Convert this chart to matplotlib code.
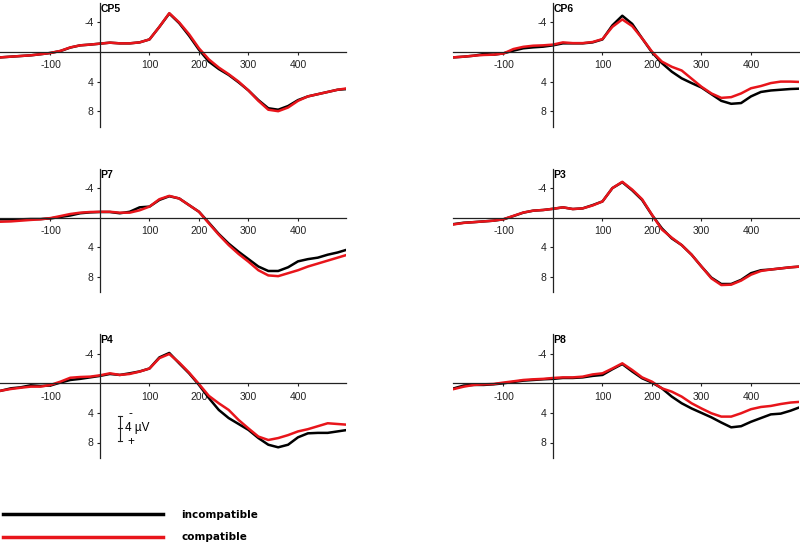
import numpy as np
import matplotlib.pyplot as plt
from matplotlib.lines import Line2D

# time axis (ms), shared by all channels
time = list(range(-200, 501, 20))

# ERP amplitudes in microvolts
cp5_incomp = [0.72, 0.63, 0.54, 0.45, 0.3, 0.13, -0.13, -0.6, -0.9, -1.0, -1.13, -1.26, -1.17, -1.17,
              -1.3, -1.7, -3.4, -5.2, -3.9, -2.2, -0.3, 1.3, 2.3, 3.1, 4.1, 5.2, 6.5, 7.6, 7.8, 7.3,
              6.5, 6.0, 5.7, 5.4, 5.1, 5.0]
cp5_comp = [0.72, 0.63, 0.54, 0.45, 0.3, 0.13, -0.15, -0.62, -0.9, -1.0, -1.13, -1.26, -1.17, -1.17,
            -1.3, -1.7, -3.4, -5.25, -4.0, -2.4, -0.5, 1.0, 2.1, 3.0, 4.0, 5.2, 6.6, 7.8, 8.0, 7.5,
            6.6, 6.0, 5.7, 5.4, 5.1, 4.9]

cp6_incomp = [0.72, 0.63, 0.5, 0.27, 0.36, 0.18, -0.18, -0.5, -0.63, -0.72, -0.9, -1.17, -1.17, -1.17,
              -1.3, -1.7, -3.6, -4.9, -3.8, -1.85, 0.05, 1.5, 2.66, 3.56, 4.2, 4.8, 5.7, 6.6, 7.0, 6.9,
              6.0, 5.4, 5.2, 5.1, 5.0, 4.95]
cp6_comp = [0.72, 0.63, 0.5, 0.4, 0.36, 0.2, -0.4, -0.7, -0.85, -0.9, -1.0, -1.3, -1.2, -1.2,
            -1.35, -1.75, -3.4, -4.4, -3.5, -1.85, -0.05, 1.3, 2.0, 2.5, 3.6, 4.7, 5.6, 6.2, 6.1, 5.6,
            4.9, 4.6, 4.2, 4.0, 4.0, 4.05]

p7_incomp = [0.22, 0.22, 0.22, 0.18, 0.18, 0.1, -0.1, -0.3, -0.6, -0.72, -0.77, -0.77, -0.6, -0.8,
             -1.4, -1.5, -2.4, -2.9, -2.6, -1.7, -0.8, 0.68, 2.2, 3.5, 4.6, 5.6, 6.6, 7.2, 7.2, 6.7,
             5.9, 5.6, 5.4, 5.0, 4.7, 4.3]
p7_comp = [0.54, 0.5, 0.4, 0.3, 0.22, 0.05, -0.22, -0.5, -0.68, -0.77, -0.8, -0.8, -0.68, -0.68,
           -1.0, -1.5, -2.5, -2.95, -2.6, -1.7, -0.8, 0.77, 2.3, 3.7, 4.9, 5.95, 7.1, 7.8, 7.9, 7.5,
           7.1, 6.6, 6.2, 5.8, 5.4, 5.0]

p3_incomp = [0.86, 0.68, 0.6, 0.5, 0.4, 0.22, -0.22, -0.68, -0.95, -1.04, -1.2, -1.4, -1.17, -1.26,
             -1.7, -2.2, -4.0, -4.8, -3.7, -2.4, -0.36, 1.44, 2.8, 3.7, 5.0, 6.6, 8.1, 8.96, 8.96, 8.4,
             7.5, 7.1, 7.0, 6.85, 6.7, 6.6]
p3_comp = [0.9, 0.7, 0.6, 0.5, 0.4, 0.2, -0.25, -0.7, -0.95, -1.04, -1.2, -1.4, -1.17, -1.26,
           -1.65, -2.2, -4.0, -4.85, -3.8, -2.5, -0.4, 1.6, 2.7, 3.7, 5.0, 6.6, 8.2, 9.1, 9.05, 8.5,
           7.7, 7.2, 7.0, 6.85, 6.7, 6.6]

p4_incomp = [1.0, 0.68, 0.54, 0.27, 0.36, 0.3, -0.1, -0.45, -0.6, -0.8, -1.0, -1.26, -1.13, -1.35,
             -1.6, -2.0, -3.5, -4.1, -2.7, -1.35, 0.22, 2.0, 3.6, 4.7, 5.5, 6.3, 7.4, 8.3, 8.65, 8.3,
             7.3, 6.76, 6.7, 6.7, 6.5, 6.3]
p4_comp = [1.0, 0.77, 0.6, 0.45, 0.45, 0.22, -0.22, -0.75, -0.85, -0.9, -1.08, -1.35, -1.13, -1.26,
           -1.58, -2.0, -3.4, -3.96, -2.8, -1.44, 0.1, 1.7, 2.7, 3.6, 4.95, 6.1, 7.2, 7.66, 7.4, 7.0,
           6.5, 6.2, 5.8, 5.4, 5.5, 5.6]

p8_incomp = [0.68, 0.3, 0.22, 0.22, 0.14, 0.0, -0.18, -0.36, -0.45, -0.54, -0.6, -0.72, -0.72, -0.8,
             -1.0, -1.13, -1.9, -2.6, -1.6, -0.68, -0.1, 0.68, 1.8, 2.7, 3.4, 4.0, 4.6, 5.3, 5.95, 5.8,
             5.2, 4.7, 4.2, 4.1, 3.7, 3.2]
p8_comp = [0.77, 0.45, 0.22, 0.14, 0.09, -0.1, -0.27, -0.45, -0.54, -0.6, -0.72, -0.8, -0.8, -0.9,
           -1.2, -1.35, -2.0, -2.7, -1.8, -0.8, -0.22, 0.68, 1.13, 1.8, 2.7, 3.4, 4.05, 4.5, 4.5, 4.05,
           3.5, 3.2, 3.06, 2.8, 2.6, 2.5]

channels = ["CP5", "CP6", "P7", "P3", "P4", "P8"]
incompatible = [cp5_incomp, cp6_incomp, p7_incomp, p3_incomp, p4_incomp, p8_incomp]
compatible = [cp5_comp, cp6_comp, p7_comp, p3_comp, p4_comp, p8_comp]

RED = "#e8151b"
AXC = "#222222"
W, H = 800, 543

plt.rcParams['font.family'] = ['Liberation Sans', 'DejaVu Sans']

fig = plt.figure(figsize=(8, 5.43), dpi=100)

xmin, xmax = -202, 497
ymin, ymax = -6.6, 10.1
pxx = 0.495  # px per ms
pxy = 7.4    # px per uV
zero_rows = [52, 217.7, 383.3]
left_cols = [0, 453]

for i, ch in enumerate(channels):
    row, col = divmod(i, 2)
    top = zero_rows[row] + ymin * pxy
    bottom = zero_rows[row] + ymax * pxy
    ax = fig.add_axes([left_cols[col] / W, 1 - bottom / H,
                       (xmax - xmin) * pxx / W, (bottom - top) / H])
    ax.plot(time, incompatible[i], color="black", lw=1.8, solid_joinstyle="round")
    ax.plot(time, compatible[i], color=RED, lw=1.8, solid_joinstyle="round")
    ax.set_xlim(xmin, xmax)
    ax.set_ylim(ymax, ymin)
    for s in ["top", "right"]:
        ax.spines[s].set_visible(False)
    ax.spines["left"].set_position(("data", 0))
    ax.spines["bottom"].set_position(("data", 0))
    for s in ["left", "bottom"]:
        ax.spines[s].set_color(AXC)
        ax.spines[s].set_linewidth(0.9)
    ax.set_xticks([-100, 100, 200, 300, 400])
    ax.set_xticklabels(["-100", "100", "200", "300", "400"])
    ax.set_yticks([-4, 4, 8])
    ax.set_yticklabels(["-4", "4", "8"])
    ax.tick_params(axis="x", direction="out", length=2.5, width=0.8, pad=3.5,
                   labelsize=7.5, colors=AXC)
    ax.tick_params(axis="y", direction="out", length=2.5, width=0.8, pad=2,
                   labelsize=7.5, colors=AXC)
    ax.patch.set_alpha(0)
    ax.text(1, ymin + 0.1, ch, fontsize=7.5, fontweight="bold", ha="left", va="top",
            transform=ax.transData)

    if ch == "P4":
        # amplitude scale bar
        ax.plot([40, 40], [4.38, 7.76], color=AXC, lw=0.8)
        for yy in [4.38, 6.08, 7.76]:
            ax.plot([36, 44], [yy, yy], color=AXC, lw=0.8)
        ax.text(62, 4.2, "-", fontsize=8.5, ha="center", va="center")
        ax.text(50, 6.08, "4 \u00b5V", fontsize=8.5, ha="left", va="center")
        ax.text(62, 8.0, "+", fontsize=8.5, ha="center", va="center")

# legend at bottom
fig.add_artist(Line2D([3 / W, 163 / W], [1 - 514 / H, 1 - 514 / H], color="black", lw=2.5))
fig.add_artist(Line2D([3 / W, 163 / W], [1 - 537 / H, 1 - 537 / H], color=RED, lw=2.5))
fig.text(181 / W, 1 - 515 / H, "incompatible", fontsize=7.5, fontweight="bold",
         family="DejaVu Sans", va="center", ha="left")
fig.text(181 / W, 1 - 537 / H, "compatible", fontsize=7.5, fontweight="bold",
         family="DejaVu Sans", va="center", ha="left")

fig.savefig("out.png", dpi=100)
